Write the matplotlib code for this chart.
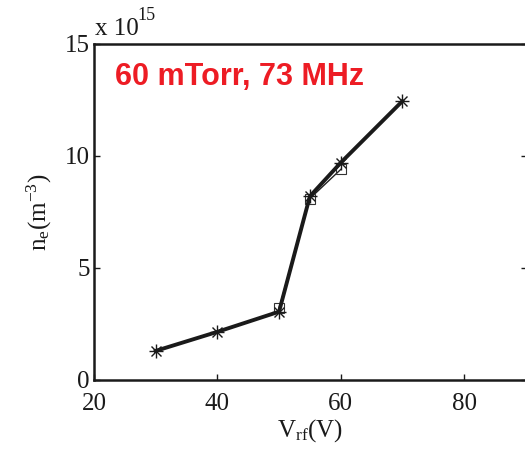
import matplotlib
matplotlib.use("Agg")
import matplotlib.pyplot as plt

plt.rcParams['font.family'] = ['Liberation Serif', 'DejaVu Serif']
plt.rcParams['mathtext.fontset'] = 'custom'
plt.rcParams['mathtext.rm'] = 'Liberation Serif'
plt.rcParams['mathtext.it'] = 'Liberation Serif'

# data (n_e in units of 1e15 m^-3)
v_star = [30, 40, 50, 55, 60, 70]
n_star = [1.3, 2.15, 3.05, 8.2, 9.7, 12.45]
v_square = [50, 55, 60]
n_square = [3.2, 8.1, 9.4]
xticks = [20, 40, 60, 80]
yticks = [0, 5, 10, 15]

fig = plt.figure(figsize=(5.25, 4.49), dpi=100)
ax = fig.add_axes([94/525, (449-380)/449, (527-94)/525, (380-44)/449])

ax.plot(v_square, n_square, color='#222222', lw=1.0, marker='s', ms=7,
        mfc='none', mec='#333333', mew=0.8)
ax.plot(v_star, n_star, color='#1a1a1a', lw=2.8)
ax.plot(v_star, n_star, ls='none', marker='+', ms=10, mew=1.0, color='#1a1a1a')
ax.plot(v_star, n_star, ls='none', marker='x', ms=7, mew=1.0, color='#1a1a1a')

ax.set_xlim(20, 90.2)
ax.set_ylim(0, 15)
ax.set_xticks(xticks)
ax.set_yticks(yticks)
ax.tick_params(direction='in', length=4, width=1, labelsize=18,
               top=False, right=True, colors='#1a1a1a')
ax.tick_params(axis='x', pad=9)
ax.tick_params(axis='y', pad=3)
for s in ax.spines.values():
    s.set_linewidth(1.8)
    s.set_color('#1a1a1a')

ax.set_xlabel(r'V$_{\rm rf}$(V)', fontsize=18, labelpad=2, color='#1a1a1a')
ax.set_ylabel(r'n$_{\rm e}$(m$^{-3}$)', fontsize=18, labelpad=8, color='#1a1a1a')

fig.text(95/525, 1 - 29/449, 'x 10', fontsize=18, va='center', ha='left',
         color='#1a1a1a')
fig.text(137/525, 1 - 15/449, '15', fontsize=13, va='center', ha='left',
         color='#1a1a1a')

ax.text(21/433, 1 - 33/336, '60 mTorr, 73 MHz', transform=ax.transAxes,
        fontsize=22, fontweight='bold', color='#ed1c24',
        family='Liberation Sans', va='center', ha='left')

fig.savefig('out.png', dpi=100)
